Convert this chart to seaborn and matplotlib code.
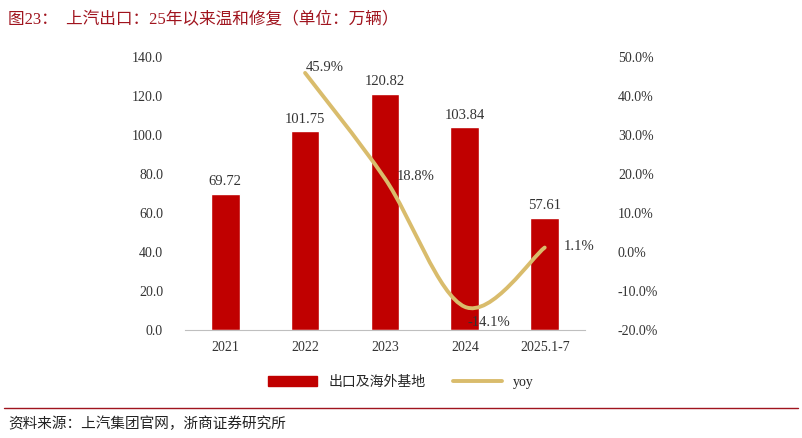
import matplotlib.pyplot as plt
import numpy as np
import pandas as pd
import seaborn as sns
from matplotlib.path import Path
from matplotlib.patches import PathPatch, Rectangle
from matplotlib.lines import Line2D

years = ['2021', '2022', '2023', '2024', '2025.1-7']
volume = [69.72, 101.75, 120.82, 103.84, 57.61]
yoy = [np.nan, 45.9, 18.8, -14.1, 1.1]
yoy_labels = ['', '45.9%', '18.8%', '-14.1%', '1.1%']

sns.set_style('white')
plt.rcParams['font.family'] = ['Liberation Serif', 'Noto Sans CJK SC']

fig = plt.figure(figsize=(8.02, 4.38), dpi=100)
ax = fig.add_axes([0.231, 0.247, 0.498, 0.623])
df = pd.DataFrame({'year': years, 'volume': volume})
sns.barplot(data=df, x='year', y='volume', color='#C00000', width=0.36,
            saturation=1, ax=ax)
ax.set_ylim(0, 140)
ax.set_yticks(np.arange(0, 141, 20))
ax.set_yticklabels([f'{v:.1f}' for v in np.arange(0, 141, 20)])
ax.set_xlabel('')
ax.set_ylabel('')
ax.tick_params(axis='both', labelsize=10, colors='#333333', length=0)
ax.tick_params(axis='y', pad=16)
ax.tick_params(axis='x', pad=8)
for s in ['top', 'right', 'left']:
    ax.spines[s].set_visible(False)
ax.spines['bottom'].set_color('#BFBFBF')
for i, v in enumerate(volume):
    ax.text(i, v + 3, f'{v:.2f}', ha='center', va='bottom', fontsize=10.5,
            color='#333333')

ax2 = ax.twinx()
ax2.set_ylim(-20, 50)
ax2.set_yticks(np.arange(-20, 51, 10))
ax2.set_yticklabels([f'{v:.1f}%' for v in np.arange(-20, 51, 10)])
ax2.tick_params(axis='y', labelsize=10, colors='#333333', length=0, pad=24)
for s in ax2.spines.values():
    s.set_visible(False)

# smoothed yoy line (Excel-style bezier through the points)
xs = np.arange(1, 5, dtype=float)
ys = np.array(yoy[1:])
pts = np.column_stack([xs, ys])
verts = [pts[0]]
codes = [Path.MOVETO]
for i in range(len(pts) - 1):
    p0 = pts[i - 1] if i > 0 else pts[i]
    p3 = pts[i + 2] if i + 2 < len(pts) else pts[i + 1]
    c1 = pts[i] + (pts[i + 1] - p0) / 6
    c2 = pts[i + 1] - (p3 - pts[i]) / 6
    verts += [c1, c2, pts[i + 1]]
    codes += [Path.CURVE4] * 3
ax2.add_patch(PathPatch(Path(verts, codes), fill=False, edgecolor='#D9BC6C',
                        lw=2.8, capstyle='round'))
offsets = {1: (0.25, 1.5), 2: (0.38, 0.5), 3: (0.3, -4.0), 4: (0.43, 0.3)}
for i in range(1, 5):
    dx, dy = offsets[i]
    ax2.text(i + dx, yoy[i] + dy, yoy_labels[i], ha='center', va='center',
             fontsize=10.5, color='#333333')

handles = [Rectangle((0, 0), 1, 1, color='#C00000'),
           Line2D([], [], color='#D9BC6C', lw=2.8)]
fig.legend(handles, ['出口及海外基地', 'yoy'], loc='center', ncol=2,
           bbox_to_anchor=(0.5, 0.127), frameon=False, fontsize=10,
           handlelength=3.5, columnspacing=2)

fig.text(0.01, 0.955, '图23：  上汽出口：25年以来温和修复（单位：万辆）',
         fontsize=12, color='#A0141E', va='center')
fig.add_artist(Line2D([0.005, 0.995], [0.068, 0.068], color='#A0141E', lw=1))
fig.text(0.01, 0.032, '资料来源：上汽集团官网，浙商证券研究所', fontsize=10.5,
         color='#222222', va='center')

plt.savefig('out.png', dpi=100)
plt.close()
